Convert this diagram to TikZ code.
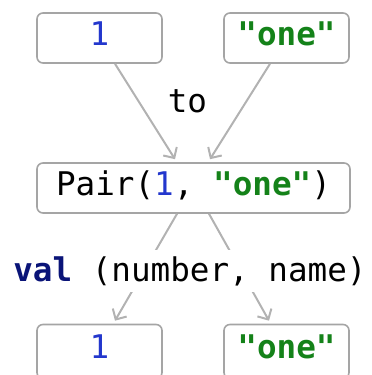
\documentclass[tikz,border=0pt]{standalone}
\usepackage{fontspec}
\setmonofont{DejaVu Sans Mono}
\usepackage{tikz}
\usetikzlibrary{arrows.meta}
\definecolor{numblue}{RGB}{35,55,205}
\definecolor{strgreen}{RGB}{20,130,25}
\definecolor{keynavy}{RGB}{10,20,120}
\definecolor{boxgray}{RGB}{165,165,165}
\definecolor{linegray}{RGB}{178,178,178}
\tikzset{
>={Straight Barb[length=4pt,width=8pt]},
  valbox/.style={
    rectangle,
    rounded corners=3pt,
    draw=boxgray, line width=0.8pt,
    fill=white,
    minimum width=62.5pt,
    minimum height=25pt,
    text height=0.73em,
    text depth=0pt,
    inner sep=0pt},
  pairbox/.style={valbox, minimum width=156.5pt},
  link/.style={draw=linegray, line width=1pt, ->},
  plain/.style={inner sep=0pt, anchor=base},
  num/.style={text=numblue},
}
\newcommand{\strlit}{\textcolor{strgreen}{\textbf{"one"}}}

\begin{document}
\begin{tikzpicture}[x=0.5pt, y=-0.5pt, font=\ttfamily\fontsize{16.3}{19}\selectfont]
     \useasboundingbox (0,0) rectangle (371,375);
     \node[valbox, num] (TopNumber)    at (99.5,38)   {1};
     \node[valbox]      (TopName)      at (286.5,38)  {\strlit};
     \node[pairbox]     (PairBox)      at (193.5,188) {Pair(\textcolor{numblue}{1}, \strlit)};
     \node[valbox, num, minimum height=27pt] (BottomNumber) at (99.5,351.5)  {1};
     \node[valbox, minimum height=27pt]      (BottomName)   at (286.5,351.5) {\strlit};
     % creation
     \draw[link] ([xshift=7.75pt]TopNumber.south) -- ([xshift=-9.25pt,yshift=1.5pt]PairBox.north);
     \draw[link] ([xshift=-8.25pt]TopName.south) -- ([xshift=8.25pt,yshift=1.5pt]PairBox.north);
     \node[plain] (ToLabel) at (187.5,112) {to};
     % destructuring
     \draw[link] ([xshift=-8.25pt]PairBox.south) -- ([xshift=7.75pt,yshift=1.5pt]BottomNumber.north);
     \draw[link] ([xshift=7.75pt]PairBox.south) -- ([xshift=-8.75pt,yshift=1.5pt]BottomName.north);
     \node[plain, fill=white, inner sep=3pt] (ValDecl) at (190,281)
          {\textcolor{keynavy}{\textbf{val}} (number, name)};
\end{tikzpicture}
\end{document}
